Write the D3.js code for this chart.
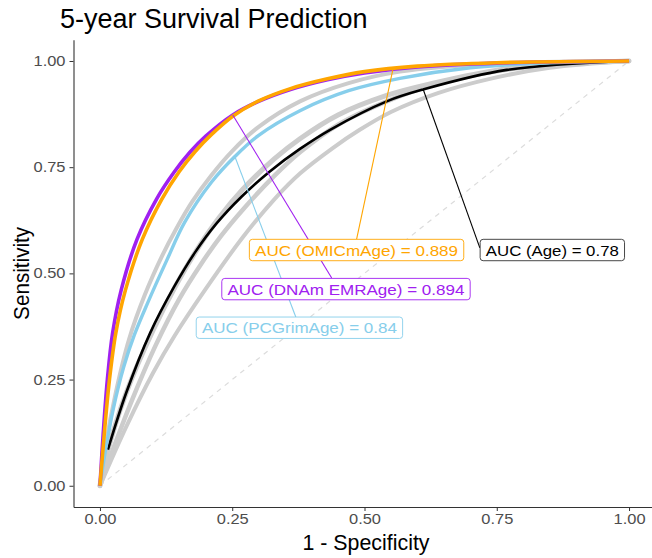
<!DOCTYPE html>
<html lang="en">
<head>
<meta charset="UTF-8">
<title>5-year Survival Prediction</title>
<script src="https://d3js.org/d3.v7.min.js"></script>
<style>
  body { margin: 0; background: #fff; }
  svg { display: block; font-family: 'Liberation Sans', Arial, sans-serif; }
  .tick text { fill: #4d4d4d; }
  .tick line, .domain { stroke: #333; }
</style>
</head>
<body>
<svg width="652" height="558"></svg>
<script>
// ROC curves: [1 - specificity, sensitivity]
var grayA = [[0,0],[0.01,0.09],[0.03,0.22],[0.055,0.345],[0.085,0.45],[0.117,0.54],[0.145,0.607],[0.175,0.67],[0.21,0.73],[0.25,0.788],[0.3,0.845],[0.378,0.905],[0.47,0.948],[0.567,0.975],[0.75,0.994],[1,1]];
var grayB = [[0,0],[0.012,0.07],[0.05,0.22],[0.1,0.365],[0.145,0.475],[0.185,0.559],[0.225,0.631],[0.27,0.698],[0.33,0.77],[0.378,0.817],[0.45,0.873],[0.542,0.919],[0.62,0.945],[0.77,0.982],[1,1]];
var grayC = [[0,0],[0.02,0.07],[0.06,0.2],[0.105,0.33],[0.15,0.44],[0.19,0.52],[0.23,0.59],[0.27,0.65],[0.33,0.73],[0.378,0.785],[0.45,0.85],[0.542,0.905],[0.62,0.94],[0.77,0.98],[1,1]];
var grayD = [[0,0],[0.05,0.14],[0.1,0.265],[0.142,0.355],[0.198,0.46],[0.27,0.585],[0.33,0.675],[0.378,0.735],[0.44,0.795],[0.491,0.838],[0.55,0.88],[0.64,0.925],[0.737,0.958],[0.85,0.984],[1,1]];

var curveAge = [[0.015,0.085],[0.05,0.22],[0.095,0.36],[0.14,0.468],[0.18,0.55],[0.22,0.617],[0.268,0.681],[0.321,0.74],[0.378,0.793],[0.435,0.838],[0.542,0.905],[0.611,0.933],[0.769,0.979],[1,1]];
var curvePCGrim = [[0,0],[0.01,0.08],[0.025,0.18],[0.045,0.28],[0.065,0.355],[0.09,0.43],[0.126,0.53],[0.16,0.62],[0.211,0.715],[0.255,0.775],[0.3,0.825],[0.378,0.883],[0.47,0.93],[0.567,0.959],[0.7,0.984],[0.85,0.996],[1,1]];
var curveEMR = [[0,0],[0.006,0.12],[0.014,0.25],[0.024,0.36],[0.04,0.46],[0.07,0.58],[0.107,0.675],[0.14,0.738],[0.17,0.785],[0.2,0.823],[0.251,0.873],[0.3,0.905],[0.36,0.933],[0.43,0.956],[0.5,0.972],[0.6,0.986],[0.75,0.995],[1,1]];
var curveOMIC = [[0,0],[0.008,0.12],[0.018,0.25],[0.03,0.36],[0.048,0.46],[0.08,0.58],[0.117,0.675],[0.15,0.74],[0.18,0.787],[0.21,0.826],[0.251,0.87],[0.3,0.906],[0.36,0.935],[0.43,0.958],[0.5,0.975],[0.6,0.988],[0.75,0.996],[1,1]];

var labelText = ["AUC (OMICmAge) = 0.889", "AUC (DNAm EMRAge) = 0.894", "AUC (PCGrimAge) = 0.84", "AUC (Age) = 0.78"];
var xTicks = [0, 0.25, 0.5, 0.75, 1];
var yTicks = [0, 0.25, 0.5, 0.75, 1];

var svg = d3.select("svg");
var x = d3.scaleLinear().domain([-0.05, 1.05]).range([73.5, 655.5]);
var y = d3.scaleLinear().domain([-0.05, 1.05]).range([507, 39.75]);

var line = d3.line()
    .x(function(d) { return x(d[0]); })
    .y(function(d) { return y(d[1]); })
    .curve(d3.curveCatmullRom.alpha(0.5));

// reference diagonal
svg.append("path")
    .attr("d", line([[0, 0], [1, 1]]))
    .attr("fill", "none")
    .attr("stroke", "#dcdcdc")
    .attr("stroke-width", 1.2)
    .attr("stroke-dasharray", "5,5");

// background curves
[[grayD, 4], [grayC, 4.5], [grayB, 5], [grayA, 4]].forEach(function(g) {
  svg.append("path")
      .attr("d", line(g[0]))
      .attr("fill", "none")
      .attr("stroke", "#cccccc")
      .attr("stroke-width", g[1])
      .attr("stroke-linecap", "round");
});

var models = [
  {pts: curveAge, color: "#000000", w: 2.6},
  {pts: curvePCGrim, color: "#87ceeb", w: 3.4},
  {pts: curveEMR, color: "#a020f0", w: 3.6},
  {pts: curveOMIC, color: "#ffa500", w: 3.6}
];
models.forEach(function(m) {
  svg.append("path")
      .attr("d", line(m.pts))
      .attr("fill", "none")
      .attr("stroke", m.color)
      .attr("stroke-width", m.w);
});

// labels: anchor on curve, segment end, box centre (data units), text width (px)
var labels = [
  {text: labelText[0], color: "#ffa500", border: "#ffa500", from: [0.554, 0.982], to: [0.485, 0.58], at: [0.485, 0.555], len: 203},
  {text: labelText[1], color: "#a020f0", border: "#a020f0", from: [0.251, 0.873], to: [0.438, 0.489], at: [0.465, 0.463], len: 237},
  {text: labelText[2], color: "#87ceeb", border: "#87ceeb", from: [0.255, 0.775], to: [0.3705, 0.396], at: [0.377, 0.372], len: 195},
  {text: labelText[3], color: "#000000", border: "#333333", from: [0.611, 0.933], to: [0.718, 0.56], at: [0.855, 0.555], len: 133}
];

labels.forEach(function(l) {
  svg.append("line")
      .attr("x1", x(l.from[0])).attr("y1", y(l.from[1]))
      .attr("x2", x(l.to[0])).attr("y2", y(l.to[1]))
      .attr("stroke", l.color)
      .attr("stroke-width", 1.1);
});

labels.forEach(function(l) {
  var cx = x(l.at[0]), cy = y(l.at[1]);
  var g = svg.append("g");
  g.append("rect")
      .attr("x", cx - l.len / 2 - 5.7).attr("y", cy - 10.7)
      .attr("width", l.len + 11.4).attr("height", 21.4)
      .attr("rx", 3)
      .attr("fill", "#fff")
      .attr("stroke", l.border)
      .attr("stroke-width", 0.9);
  g.append("text")
      .attr("x", cx)
      .attr("y", cy)
      .attr("dy", "0.36em")
      .attr("text-anchor", "middle")
      .attr("fill", l.color)
      .attr("textLength", l.len)
      .attr("lengthAdjust", "spacingAndGlyphs")
      .style("font-size", "15.4px")
      .text(l.text);
});

// axes
function styleTicks(g) {
  g.selectAll(".tick text")
      .style("font-size", "14px")
      .attr("textLength", 32)
      .attr("lengthAdjust", "spacingAndGlyphs");
}

svg.append("g")
    .attr("transform", "translate(0,507)")
    .call(d3.axisBottom(x).tickValues(xTicks).tickFormat(d3.format(".2f")).tickSize(4).tickSizeOuter(0).tickPadding(3))
    .call(styleTicks);

svg.append("g")
    .attr("transform", "translate(73.5,0)")
    .call(d3.axisLeft(y).tickValues(yTicks).tickFormat(d3.format(".2f")).tickSize(4).tickSizeOuter(0).tickPadding(4))
    .call(styleTicks);

svg.selectAll(".domain").attr("stroke-width", 1.1);

// titles
svg.append("text")
    .attr("x", 60).attr("y", 28)
    .style("font-size", "27px")
    .text("5-year Survival Prediction");

svg.append("text")
    .attr("x", 366).attr("y", 550)
    .attr("text-anchor", "middle")
    .style("font-size", "22px")
    .attr("textLength", 127)
    .attr("lengthAdjust", "spacingAndGlyphs")
    .text("1 - Specificity");

svg.append("text")
    .attr("transform", "translate(29," + y(0.5) + ") rotate(-90)")
    .attr("text-anchor", "middle")
    .style("font-size", "22px")
    .attr("textLength", 93)
    .attr("lengthAdjust", "spacingAndGlyphs")
    .text("Sensitivity");
</script>
</body>
</html>
